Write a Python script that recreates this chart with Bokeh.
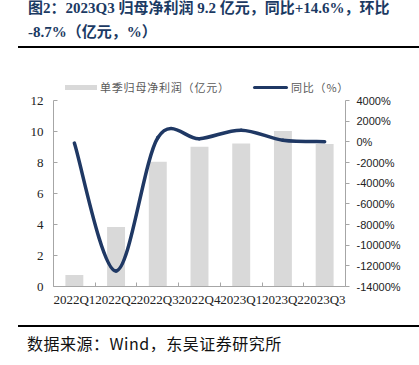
from bokeh.plotting import figure
from bokeh.models import (Range1d, LinearAxis, FixedTicker, ColumnDataSource, Div)
from bokeh.layouts import column
from bokeh.embed import file_html
from bokeh.resources import INLINE

# ---- data ----
quarters = ["2022Q1", "2022Q2", "2022Q3", "2022Q4", "2023Q1", "2023Q2", "2023Q3"]
profit = [0.75, 3.84, 8.05, 9.02, 9.23, 10.03, 9.20]          # 单季归母净利润（亿元）
yoy = [-120, -12500, 400, 300, 1130, 161, 14.6]                 # 同比（%）
left_ticks = [0, 2, 4, 6, 8, 10, 12]
right_ticks = [-14000, -12000, -10000, -8000, -6000, -4000, -2000, 0, 2000, 4000]
series_names = ["单季归母净利润（亿元）", "同比（%）"]

title_line1 = "图2：2023Q3 归母净利润 9.2 亿元，同比+14.6%，环比"
title_line2 = "-8.7%（亿元，%）"
source_text = "数据来源：Wind，东吴证券研究所"

NAVY = "#1F3864"
BAR = "#D9D9D9"
AXIS = "#A6A6A6"

xs = list(range(len(quarters)))

p = figure(width=411, height=224, output_backend="svg", toolbar_location=None,
           x_range=Range1d(-0.5, len(quarters) - 0.5), y_range=Range1d(0, 12),
           min_border_left=45, min_border_right=74, min_border_top=6,
           min_border_bottom=32, margin=(0, 0, 0, 0))
p.outline_line_color = None
p.xgrid.visible = False
p.ygrid.visible = False
p.extra_y_ranges = {"yoy": Range1d(-14000, 4000)}

bars = p.vbar(x=xs, top=profit, width=0.43, fill_color=BAR, line_color=None)

# smoothed line (Catmull-Rom style Bezier through the data points)
x0, y0, x1, y1, cx0, cy0, cx1, cy1 = [], [], [], [], [], [], [], []
n = len(yoy)
for i in range(n - 1):
    ip = max(i - 1, 0)
    inn = min(i + 2, n - 1)
    x0.append(xs[i]); y0.append(yoy[i])
    x1.append(xs[i + 1]); y1.append(yoy[i + 1])
    cx0.append(xs[i] + (xs[i + 1] - xs[ip]) / 6)
    cy0.append(yoy[i] + (yoy[i + 1] - yoy[ip]) / 6)
    cx1.append(xs[i + 1] - (xs[inn] - xs[i]) / 6)
    cy1.append(yoy[i + 1] - (yoy[inn] - yoy[i]) / 6)
bsrc = ColumnDataSource(dict(x0=x0, y0=y0, x1=x1, y1=y1, cx0=cx0, cy0=cy0, cx1=cx1, cy1=cy1))
p.bezier(x0="x0", y0="y0", x1="x1", y1="y1", cx0="cx0", cy0="cy0", cx1="cx1", cy1="cy1",
         source=bsrc, line_color=NAVY, line_width=3.5, line_cap="round", y_range_name="yoy")

# x axis
xa = p.xaxis[0]
xa.ticker = FixedTicker(ticks=xs, minor_ticks=[i - 0.5 for i in range(len(quarters) + 1)])
xa.major_label_overrides = {i: q for i, q in enumerate(quarters)}
xa.major_tick_out = 0
xa.major_tick_in = 0
xa.minor_tick_in = 4
xa.minor_tick_out = 0
xa.minor_tick_line_color = AXIS
xa.axis_line_color = AXIS
xa.major_label_text_font = "Liberation Serif"
xa.major_label_text_font_size = "13px"
xa.major_label_text_color = "#222222"
xa.major_label_standoff = 5

# left axis
ya = p.yaxis[0]
ya.ticker = FixedTicker(ticks=left_ticks)
ya.minor_tick_line_color = None
ya.major_tick_in = 4
ya.major_tick_out = 0
ya.major_tick_line_color = AXIS
ya.axis_line_color = AXIS
ya.major_label_text_font = "Liberation Serif"
ya.major_label_text_font_size = "13px"
ya.major_label_text_color = "#222222"
ya.major_label_standoff = 10

# right axis
ra = LinearAxis(y_range_name="yoy", ticker=FixedTicker(ticks=right_ticks))
ra.major_label_overrides = {v: f"{v}%" for v in right_ticks}
ra.minor_tick_line_color = None
ra.major_tick_in = 0
ra.major_tick_out = 4
ra.major_tick_line_color = AXIS
ra.axis_line_color = AXIS
ra.major_label_text_font = "Liberation Sans"
ra.major_label_text_font_size = "11px"
ra.major_label_text_color = "#222222"
ra.major_label_standoff = 7
p.add_layout(ra, "right")

header = Div(width=411, height=42, margin=(0, 0, 0, 0), text=f"""
<div style="position:relative;width:411px;height:42px;">
  <div style="position:absolute;left:20px;top:-12px;white-space:nowrap;font-weight:bold;
       font-size:15px;line-height:24px;color:#1B3A63;
       font-family:'Liberation Serif','Noto Sans CJK SC',serif;">{title_line1}<br>{title_line2}</div>
  <div style="position:absolute;left:10px;width:401px;top:38px;height:2px;background:#000;"></div>
</div>""")

LEG_FONT = ("font-family:'Noto Sans CJK SC',sans-serif;font-size:11px;line-height:16px;"
            "letter-spacing:0.8px;color:#595959;white-space:nowrap;")
legend_div = Div(width=411, height=44, margin=(0, 0, 0, 0), text=f"""
<div style="position:relative;width:411px;height:44px;">
  <div style="position:absolute;left:57px;top:35px;width:32px;height:5px;background:{BAR};"></div>
  <div style="position:absolute;left:92px;top:29px;{LEG_FONT}">{series_names[0]}</div>
  <div style="position:absolute;left:245px;top:35.5px;width:35px;height:3.5px;border-radius:2px;background:{NAVY};"></div>
  <div style="position:absolute;left:283px;top:29px;{LEG_FONT}">{series_names[1]}</div>
</div>""")

footer = Div(width=411, height=47, margin=(0, 0, 0, 0), text=f"""
<div style="position:relative;width:411px;height:47px;">
  <div style="position:absolute;left:10px;width:401px;top:7px;height:1.5px;background:#000;"></div>
  <div style="position:absolute;left:19px;top:15px;white-space:nowrap;font-size:16px;line-height:20px;
       letter-spacing:0.5px;color:#111;
       font-family:'Noto Sans CJK SC','Liberation Sans',sans-serif;">{source_text}</div>
</div>""")

layout = column(header, legend_div, p, footer, spacing=0, margin=(8, 0, 0, 8))
open("out.html", "w").write(file_html(layout, INLINE))
